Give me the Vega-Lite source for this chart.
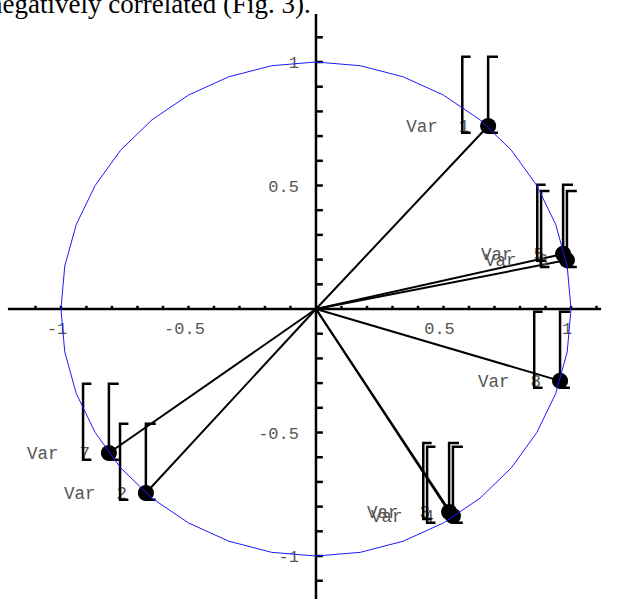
{
  "$schema": "https://vega.github.io/schema/vega-lite/v6.json",
  "width": 621,
  "height": 599,
  "padding": 0,
  "autosize": {"type": "none"},
  "background": "white",
  "config": {"view": {"stroke": null}},
  "datasets": {
    "heading": [
      {"x": -1.282, "y": 1.198, "t": "negatively correlated (Fig. 3)."}
    ],
    "circle": [
      {"i": 0, "x": 1, "y": 0}, {"i": 1, "x": 0.985, "y": 0.174}, {"i": 2, "x": 0.94, "y": 0.342},
      {"i": 3, "x": 0.866, "y": 0.5}, {"i": 4, "x": 0.766, "y": 0.643}, {"i": 5, "x": 0.643, "y": 0.766},
      {"i": 6, "x": 0.5, "y": 0.866}, {"i": 7, "x": 0.342, "y": 0.94}, {"i": 8, "x": 0.174, "y": 0.985},
      {"i": 9, "x": 0, "y": 1}, {"i": 10, "x": -0.174, "y": 0.985}, {"i": 11, "x": -0.342, "y": 0.94},
      {"i": 12, "x": -0.5, "y": 0.866}, {"i": 13, "x": -0.643, "y": 0.766}, {"i": 14, "x": -0.766, "y": 0.643},
      {"i": 15, "x": -0.866, "y": 0.5}, {"i": 16, "x": -0.94, "y": 0.342}, {"i": 17, "x": -0.985, "y": 0.174},
      {"i": 18, "x": -1, "y": 0}, {"i": 19, "x": -0.985, "y": -0.174}, {"i": 20, "x": -0.94, "y": -0.342},
      {"i": 21, "x": -0.866, "y": -0.5}, {"i": 22, "x": -0.766, "y": -0.643}, {"i": 23, "x": -0.643, "y": -0.766},
      {"i": 24, "x": -0.5, "y": -0.866}, {"i": 25, "x": -0.342, "y": -0.94}, {"i": 26, "x": -0.174, "y": -0.985},
      {"i": 27, "x": 0, "y": -1}, {"i": 28, "x": 0.174, "y": -0.985}, {"i": 29, "x": 0.342, "y": -0.94},
      {"i": 30, "x": 0.5, "y": -0.866}, {"i": 31, "x": 0.643, "y": -0.766}, {"i": 32, "x": 0.766, "y": -0.643},
      {"i": 33, "x": 0.866, "y": -0.5}, {"i": 34, "x": 0.94, "y": -0.342}, {"i": 35, "x": 0.985, "y": -0.174},
      {"i": 36, "x": 1, "y": 0}
    ],
    "vars": [
      {"label": "Var\u00a0\u00a01", "x0": 0, "y0": 0, "x": 0.675, "y": 0.741},
      {"label": "Var\u00a0\u00a02", "x0": 0, "y0": 0, "x": -0.667, "y": -0.745},
      {"label": "Var\u00a0\u00a03", "x0": 0, "y0": 0, "x": 0.522, "y": -0.822},
      {"label": "Var\u00a0\u00a04", "x0": 0, "y0": 0, "x": 0.537, "y": -0.838},
      {"label": "Var\u00a0\u00a05", "x0": 0, "y0": 0, "x": 0.969, "y": 0.223},
      {"label": "Var\u00a0\u00a06", "x0": 0, "y0": 0, "x": 0.984, "y": 0.198},
      {"label": "Var\u00a0\u00a07", "x0": 0, "y0": 0, "x": -0.812, "y": -0.583},
      {"label": "Var\u00a0\u00a08", "x0": 0, "y0": 0, "x": 0.957, "y": -0.291}
    ],
    "axislines": [
      {"x": -1.208, "y": 0, "x2": 1.118, "y2": 0},
      {"x": 0, "y": 1.194, "x2": 0, "y2": -1.18}
    ],
    "xticks": [
      {"v": -1.1, "a": 0, "b": 0.013}, {"v": -1.0, "a": 0, "b": 0.013}, {"v": -0.9, "a": 0, "b": 0.013},
      {"v": -0.8, "a": 0, "b": 0.013}, {"v": -0.7, "a": 0, "b": 0.013}, {"v": -0.6, "a": 0, "b": 0.013},
      {"v": -0.5, "a": 0, "b": 0.013}, {"v": -0.4, "a": 0, "b": 0.013}, {"v": -0.3, "a": 0, "b": 0.013},
      {"v": -0.2, "a": 0, "b": 0.013}, {"v": -0.1, "a": 0, "b": 0.013},
      {"v": 0.1, "a": 0, "b": 0.013}, {"v": 0.2, "a": 0, "b": 0.013}, {"v": 0.3, "a": 0, "b": 0.013},
      {"v": 0.4, "a": 0, "b": 0.013}, {"v": 0.5, "a": 0, "b": 0.013}, {"v": 0.6, "a": 0, "b": 0.013},
      {"v": 0.7, "a": 0, "b": 0.013}, {"v": 0.8, "a": 0, "b": 0.013}, {"v": 0.9, "a": 0, "b": 0.013},
      {"v": 1.0, "a": 0, "b": 0.013}, {"v": 1.1, "a": 0, "b": 0.013}
    ],
    "yticks": [
      {"v": -1.1, "a": 0, "b": 0.027}, {"v": -1.0, "a": 0, "b": 0.027}, {"v": -0.9, "a": 0, "b": 0.027},
      {"v": -0.8, "a": 0, "b": 0.027}, {"v": -0.7, "a": 0, "b": 0.027}, {"v": -0.6, "a": 0, "b": 0.027},
      {"v": -0.5, "a": 0, "b": 0.027}, {"v": -0.4, "a": 0, "b": 0.027}, {"v": -0.3, "a": 0, "b": 0.027},
      {"v": -0.2, "a": 0, "b": 0.027}, {"v": -0.1, "a": 0, "b": 0.027},
      {"v": 0.1, "a": 0, "b": 0.027}, {"v": 0.2, "a": 0, "b": 0.027}, {"v": 0.3, "a": 0, "b": 0.027},
      {"v": 0.4, "a": 0, "b": 0.027}, {"v": 0.5, "a": 0, "b": 0.027}, {"v": 0.6, "a": 0, "b": 0.027},
      {"v": 0.7, "a": 0, "b": 0.027}, {"v": 0.8, "a": 0, "b": 0.027}, {"v": 0.9, "a": 0, "b": 0.027},
      {"v": 1.0, "a": 0, "b": 0.027}, {"v": 1.1, "a": 0, "b": 0.027}
    ],
    "ticklabels": [
      {"v": -1, "o": 0, "t": "-1"}, {"v": -0.5, "o": 0, "t": "-0.5"}, {"v": 0.5, "o": 0, "t": "0.5"}, {"v": 1, "o": 0, "t": "1"}
    ]
  },
  "layer": [
    {
      "data": {"name": "heading"},
      "mark": {"type": "text", "font": "Liberation Serif", "fontSize": 27, "color": "black", "align": "left", "baseline": "alphabetic"},
      "encoding": {
        "x": {"field": "x", "type": "quantitative", "scale": {"domain": [-1.239, 1.196], "nice": false, "zero": false}, "axis": null},
        "y": {"field": "y", "type": "quantitative", "scale": {"domain": [-1.174, 1.251], "nice": false, "zero": false}, "axis": null},
        "text": {"field": "t"}
      }
    },
    {
      "data": {"name": "axislines"},
      "mark": {"type": "rule", "color": "black", "strokeWidth": 2.5},
      "encoding": {
        "x": {"field": "x", "type": "quantitative", "scale": {"domain": [-1.239, 1.196], "nice": false, "zero": false}, "axis": null},
        "y": {"field": "y", "type": "quantitative", "scale": {"domain": [-1.174, 1.251], "nice": false, "zero": false}, "axis": null},
        "x2": {"field": "x2"},
        "y2": {"field": "y2"}
      }
    },
    {
      "data": {"name": "xticks"},
      "mark": {"type": "rule", "color": "black", "strokeWidth": 2.5},
      "encoding": {
        "x": {"field": "v", "type": "quantitative", "scale": {"domain": [-1.239, 1.196], "nice": false, "zero": false}, "axis": null},
        "y": {"field": "a", "type": "quantitative", "scale": {"domain": [-1.174, 1.251], "nice": false, "zero": false}, "axis": null},
        "y2": {"field": "b"}
      }
    },
    {
      "data": {"name": "yticks"},
      "mark": {"type": "rule", "color": "black", "strokeWidth": 2.5},
      "encoding": {
        "y": {"field": "v", "type": "quantitative", "scale": {"domain": [-1.174, 1.251], "nice": false, "zero": false}, "axis": null},
        "x": {"field": "a", "type": "quantitative", "scale": {"domain": [-1.239, 1.196], "nice": false, "zero": false}, "axis": null},
        "x2": {"field": "b"}
      }
    },
    {
      "data": {"name": "ticklabels"},
      "mark": {"type": "text", "font": "Liberation Mono", "fontSize": 17, "color": "#555555", "align": "center", "baseline": "alphabetic", "dx": -4, "dy": 25},
      "encoding": {
        "x": {"field": "v", "type": "quantitative", "scale": {"domain": [-1.239, 1.196], "nice": false, "zero": false}, "axis": null},
        "y": {"field": "o", "type": "quantitative", "scale": {"domain": [-1.174, 1.251], "nice": false, "zero": false}, "axis": null},
        "text": {"field": "t"}
      }
    },
    {
      "data": {"name": "ticklabels"},
      "mark": {"type": "text", "font": "Liberation Mono", "fontSize": 17, "color": "#555555", "align": "right", "baseline": "middle", "dx": -17, "dy": 1},
      "encoding": {
        "y": {"field": "v", "type": "quantitative", "scale": {"domain": [-1.174, 1.251], "nice": false, "zero": false}, "axis": null},
        "x": {"field": "o", "type": "quantitative", "scale": {"domain": [-1.239, 1.196], "nice": false, "zero": false}, "axis": null},
        "text": {"field": "t"}
      }
    },
    {
      "data": {"name": "vars"},
      "mark": {"type": "rule", "color": "black", "strokeWidth": 2},
      "encoding": {
        "x": {"field": "x0", "type": "quantitative", "scale": {"domain": [-1.239, 1.196], "nice": false, "zero": false}, "axis": null},
        "y": {"field": "y0", "type": "quantitative", "scale": {"domain": [-1.174, 1.251], "nice": false, "zero": false}, "axis": null},
        "x2": {"field": "x"},
        "y2": {"field": "y"}
      }
    },
    {
      "data": {"name": "vars"},
      "mark": {"type": "text", "font": "Liberation Mono", "fontSize": 17.5, "color": "#555555", "align": "left", "baseline": "alphabetic", "dx": -82, "dy": 6},
      "encoding": {
        "x": {"field": "x", "type": "quantitative", "scale": {"domain": [-1.239, 1.196], "nice": false, "zero": false}, "axis": null},
        "y": {"field": "y", "type": "quantitative", "scale": {"domain": [-1.174, 1.251], "nice": false, "zero": false}, "axis": null},
        "text": {"field": "label"}
      }
    },
    {
      "data": {"name": "vars"},
      "mark": {"type": "point", "filled": false, "stroke": "black", "strokeWidth": 2.5, "opacity": 1, "size": 5776,
               "shape": "M-0.46,-1.82L-0.68,-1.82L-0.68,0.18L-0.46,0.18M0.26,-1.82L0,-1.82L0,0.18L0.26,0.18"},
      "encoding": {
        "x": {"field": "x", "type": "quantitative", "scale": {"domain": [-1.239, 1.196], "nice": false, "zero": false}, "axis": null},
        "y": {"field": "y", "type": "quantitative", "scale": {"domain": [-1.174, 1.251], "nice": false, "zero": false}, "axis": null}
      }
    },
    {
      "data": {"name": "vars"},
      "mark": {"type": "point", "filled": true, "color": "black", "opacity": 1, "size": 260, "shape": "circle"},
      "encoding": {
        "x": {"field": "x", "type": "quantitative", "scale": {"domain": [-1.239, 1.196], "nice": false, "zero": false}, "axis": null},
        "y": {"field": "y", "type": "quantitative", "scale": {"domain": [-1.174, 1.251], "nice": false, "zero": false}, "axis": null}
      }
    },
    {
      "data": {"name": "circle"},
      "mark": {"type": "line", "color": "#1a1aff", "strokeWidth": 1},
      "encoding": {
        "x": {"field": "x", "type": "quantitative", "scale": {"domain": [-1.239, 1.196], "nice": false, "zero": false}, "axis": null},
        "y": {"field": "y", "type": "quantitative", "scale": {"domain": [-1.174, 1.251], "nice": false, "zero": false}, "axis": null},
        "order": {"field": "i", "type": "quantitative"}
      }
    }
  ]
}
